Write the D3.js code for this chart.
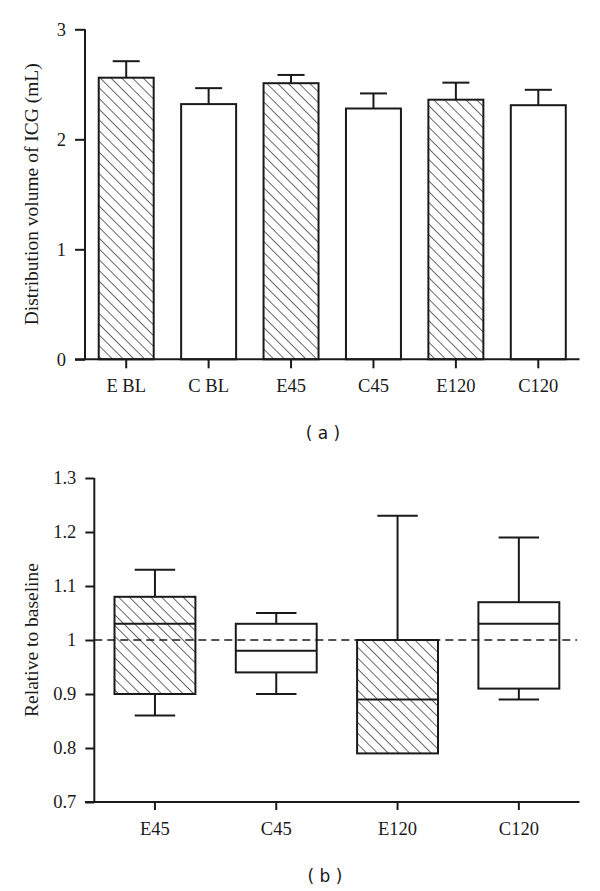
<!DOCTYPE html>
<html>
<head>
<meta charset="utf-8">
<script src="https://cdn.jsdelivr.net/npm/d3@7"></script>
<style>
body { margin: 0; background: #fff; }
svg text { fill: #1a1a1a; }
.serif { font-family: "Liberation Serif", "Times New Roman", serif; }
.panel { font-family: "DejaVu Sans", Verdana, sans-serif; font-size: 17px; }
</style>
</head>
<body>
<div id="chart"></div>
<script>
// panel a : bars with upper error bars
const barGroups = ["E BL", "C BL", "E45", "C45", "E120", "C120"];
const barMeans = [2.56, 2.32, 2.51, 2.28, 2.36, 2.31];
const barErrors = [0.15, 0.145, 0.075, 0.137, 0.155, 0.14];
const barHatched = [true, false, true, false, true, false];
const barTicks = [0, 1, 2, 3];

// panel b : box plots relative to baseline
const boxGroups = ["E45", "C45", "E120", "C120"];
const boxMin = [0.86, 0.90, 0.79, 0.89];
const boxQ1 = [0.90, 0.94, 0.79, 0.91];
const boxMedian = [1.03, 0.98, 0.89, 1.03];
const boxQ3 = [1.08, 1.03, 1.00, 1.07];
const boxMax = [1.13, 1.05, 1.23, 1.19];
const boxHatched = [true, false, true, false];
const boxTicks = [0.7, 0.8, 0.9, 1, 1.1, 1.2, 1.3];

const width = 600;
const height = 891;
const ink = '#1a1a1a';

let svg = d3.select('#chart').append('svg')
.attr('width', width)
.attr('height', height);

svg.append('defs')
.append('pattern')
.attr('id', 'hatch')
.attr('patternUnits', 'userSpaceOnUse')
.attr('width', 7.6)
.attr('height', 7.6)
.attr('patternTransform', 'rotate(-45)')
.call(p => p.append('rect').attr('width', 7.6).attr('height', 7.6).attr('fill', '#fff'))
.append('line')
.attr('x1', 0).attr('y1', 0)
.attr('x2', 0).attr('y2', 7.6)
.attr('stroke', ink)
.attr('stroke-width', 1.3);

const styleAxis = (g) => {
	g.select('.domain').remove();
	g.selectAll('.tick line').attr('stroke', ink).attr('stroke-width', 2);
	g.selectAll('.tick text')
	.attr('class', 'serif')
	.style('font-size', '18.5px')
	.attr('fill', ink);
}

/* ---------- panel a ---------- */

let xA = d3.scaleBand()
.domain(barGroups)
.range([85, 579.5])
.paddingInner(0.333)
.paddingOuter(0.1665);

let yA = d3.scaleLinear()
.domain([0, 3])
.range([359.3, 29.3]);

let panelA = svg.append('g');

panelA.selectAll('rect.bar')
.data(barGroups)
.enter()
.append('rect')
.attr('class', 'bar')
.attr('x', d => xA(d))
.attr('y', (d, i) => yA(barMeans[i]))
.attr('width', xA.bandwidth())
.attr('height', (d, i) => yA(0) - yA(barMeans[i]))
.attr('fill', (d, i) => barHatched[i] ? 'url(#hatch)' : '#fff')
.attr('stroke', ink)
.attr('stroke-width', 2);

let errA = panelA.selectAll('g.err')
.data(barGroups)
.enter()
.append('g')
.attr('class', 'err')
.attr('transform', d => `translate(${xA(d) + xA.bandwidth() / 2},0)`);

errA.append('line')
.attr('y1', (d, i) => yA(barMeans[i]))
.attr('y2', (d, i) => yA(barMeans[i] + barErrors[i]))
.attr('stroke', ink)
.attr('stroke-width', 2);

errA.append('line')
.attr('x1', -13.5)
.attr('x2', 13.5)
.attr('y1', (d, i) => yA(barMeans[i] + barErrors[i]))
.attr('y2', (d, i) => yA(barMeans[i] + barErrors[i]))
.attr('stroke', ink)
.attr('stroke-width', 2);

panelA.append('g')
.attr('transform', 'translate(85,0)')
.call(d3.axisLeft(yA).tickValues(barTicks).tickFormat(d3.format('d')).tickSize(10).tickPadding(9))
.call(g => styleAxis(g));

panelA.append('g')
.attr('transform', `translate(0,${yA(0)})`)
.call(d3.axisBottom(xA).tickSize(9).tickPadding(11))
.call(g => styleAxis(g));

panelA.append('line')
.attr('x1', 85).attr('x2', 85)
.attr('y1', yA(3)).attr('y2', yA(0))
.attr('stroke', ink).attr('stroke-width', 2);

panelA.append('line')
.attr('x1', 75).attr('x2', 579.5)
.attr('y1', yA(0)).attr('y2', yA(0))
.attr('stroke', ink).attr('stroke-width', 2);

panelA.append('text')
.attr('class', 'serif')
.attr('transform', `translate(31,${(yA(0) + yA(3)) / 2}) rotate(-90)`)
.attr('text-anchor', 'middle')
.attr('dy', '0.35em')
.style('font-size', '19.5px')
.text('Distribution volume of ICG (mL)');

panelA.append('text')
.attr('class', 'panel')
.attr('x', 323)
.attr('y', 433)
.attr('dy', '0.35em')
.attr('text-anchor', 'middle')
.text('( a )');

/* ---------- panel b ---------- */

let xB = d3.scaleBand()
.domain(boxGroups)
.range([94.3, 579.5])
.paddingInner(0.333)
.paddingOuter(0.1665);

let yB = d3.scaleLinear()
.domain([0.7, 1.3])
.range([802, 478]);

let panelB = svg.append('g');

let boxes = panelB.selectAll('g.box')
.data(boxGroups)
.enter()
.append('g')
.attr('class', 'box')
.attr('transform', d => `translate(${xB(d) + xB.bandwidth() / 2},0)`);

const half = xB.bandwidth() / 2;

boxes.append('line')
.attr('y1', (d, i) => yB(boxQ3[i]))
.attr('y2', (d, i) => yB(boxMax[i]))
.attr('stroke', ink).attr('stroke-width', 2);

boxes.append('line')
.attr('y1', (d, i) => yB(boxQ1[i]))
.attr('y2', (d, i) => yB(boxMin[i]))
.attr('stroke', ink).attr('stroke-width', 2);

boxes.append('line')
.attr('x1', -half / 2).attr('x2', half / 2)
.attr('y1', (d, i) => yB(boxMax[i]))
.attr('y2', (d, i) => yB(boxMax[i]))
.attr('stroke', ink).attr('stroke-width', 2);

boxes.filter((d, i) => boxMin[i] < boxQ1[i])
.append('line')
.attr('x1', -half / 2).attr('x2', half / 2)
.attr('y1', d => yB(boxMin[boxGroups.indexOf(d)]))
.attr('y2', d => yB(boxMin[boxGroups.indexOf(d)]))
.attr('stroke', ink).attr('stroke-width', 2);

boxes.append('rect')
.attr('x', -half)
.attr('width', half * 2)
.attr('y', (d, i) => yB(boxQ3[i]))
.attr('height', (d, i) => yB(boxQ1[i]) - yB(boxQ3[i]))
.attr('fill', (d, i) => boxHatched[i] ? 'url(#hatch)' : '#fff')
.attr('stroke', ink)
.attr('stroke-width', 2);

boxes.append('line')
.attr('x1', -half).attr('x2', half)
.attr('y1', (d, i) => yB(boxMedian[i]))
.attr('y2', (d, i) => yB(boxMedian[i]))
.attr('stroke', ink).attr('stroke-width', 2);

// dashed reference line runs over the boxes
panelB.append('line')
.attr('x1', 94.3).attr('x2', 577)
.attr('y1', yB(1)).attr('y2', yB(1))
.attr('stroke', ink)
.attr('stroke-width', 1.6)
.attr('stroke-dasharray', '8,5');

panelB.append('g')
.attr('transform', 'translate(94.3,0)')
.call(d3.axisLeft(yB).tickValues(boxTicks).tickFormat(d => d === 1 ? '1' : d3.format('.1f')(d)).tickSize(9).tickPadding(9))
.call(g => styleAxis(g));

panelB.append('g')
.attr('transform', `translate(0,${yB(0.7)})`)
.call(d3.axisBottom(xB).tickSize(8).tickPadding(12))
.call(g => styleAxis(g));

panelB.append('line')
.attr('x1', 94.3).attr('x2', 94.3)
.attr('y1', yB(1.3)).attr('y2', yB(0.7))
.attr('stroke', ink).attr('stroke-width', 2);

panelB.append('line')
.attr('x1', 85).attr('x2', 579.5)
.attr('y1', yB(0.7)).attr('y2', yB(0.7))
.attr('stroke', ink).attr('stroke-width', 2);

panelB.append('text')
.attr('class', 'serif')
.attr('transform', `translate(31,${(yB(0.7) + yB(1.3)) / 2}) rotate(-90)`)
.attr('text-anchor', 'middle')
.attr('dy', '0.35em')
.style('font-size', '19.5px')
.text('Relative to baseline');

panelB.append('text')
.attr('class', 'panel')
.attr('x', 325)
.attr('y', 876)
.attr('dy', '0.35em')
.attr('text-anchor', 'middle')
.text('( b )');
</script>
</body>
</html>
